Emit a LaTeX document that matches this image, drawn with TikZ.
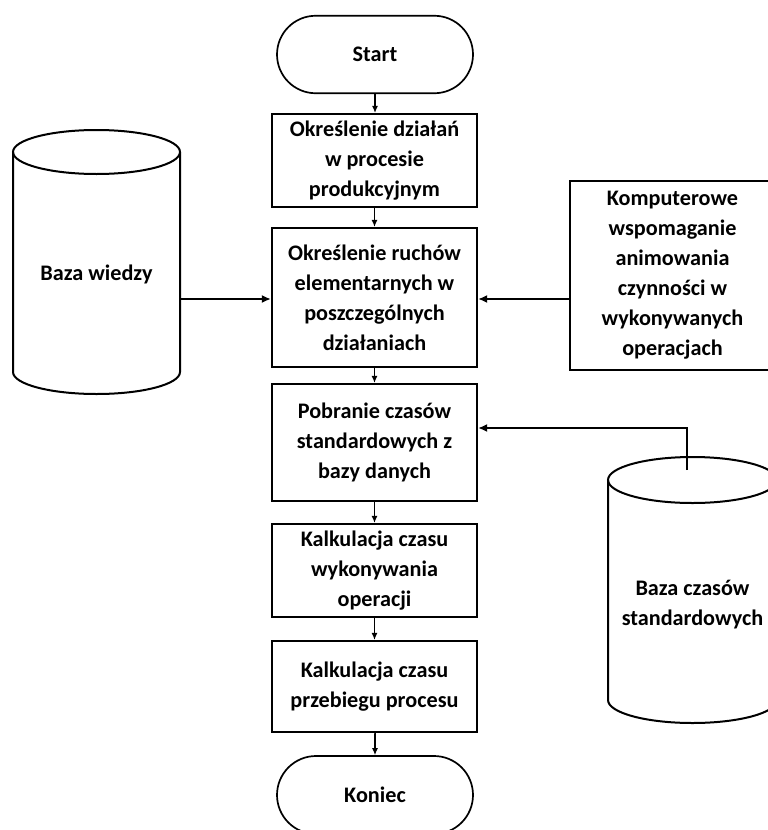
\documentclass[tikz,border=0pt]{standalone}
\usepackage{fontspec}
\setmainfont{Carlito}
\usetikzlibrary{shapes.misc,arrows.meta}
\begin{document}
\begin{tikzpicture}[x=1pt,y=1pt,
  every node/.style={font=\bfseries\fontsize{22.2}{30}\selectfont, align=center, inner sep=0pt},
  procbox/.style={draw, line width=2.2pt, minimum width=205pt},
  term/.style={draw, rounded rectangle, line width=1.7pt, minimum width=196pt, minimum height=77.5pt},
  flow/.style={-{Latex[length=7pt,width=6pt]}, line width=1.2pt},
  feed/.style={-{Latex[length=9pt,width=8pt]}, line width=2.2pt},
  dbline/.style={line width=2pt}]
\useasboundingbox (0,0) rectangle (768,-830);
\clip (0,0) rectangle (768,-830);

% main process column
\node[term] (start) at (375,-54.5) {Start};
\node[procbox, minimum height=93pt]  (b1) at (374.5,-160.5) {Określenie działań\\w procesie\\produkcyjnym};
\node[procbox, minimum height=139pt] (b2) at (374.5,-297.5) {Określenie ruchów\\elementarnych w\\poszczególnych\\działaniach};
\node[procbox, minimum height=117pt] (b3) at (374.5,-442.5) {Pobranie czasów\\standardowych z\\bazy danych};
\node[procbox, minimum height=93pt]  (b4) at (374.5,-570.5) {Kalkulacja czasu\\wykonywania\\operacji};
\node[procbox, minimum height=91pt]  (b5) at (374.5,-686.5) {Kalkulacja czasu\\przebiegu procesu};
\node[term, minimum height=78pt] (end) at (375,-795) {Koniec};

% side input box
\node[procbox, minimum width=205pt, minimum height=189pt] (kom) at (672.5,-275.5)
  {Komputerowe\\wspomaganie\\animowania\\czynności w\\wykonywanych\\operacjach};

% knowledge base cylinder
\draw[dbline] (13,-152) -- (13,-372) arc[start angle=180,end angle=360,x radius=83.5,y radius=22] -- (180,-152);
\draw[dbline] (96.5,-152) ellipse [x radius=83.5,y radius=22];
\node (kb) at (96.5,-274) {Baza wiedzy};
\coordinate (kbout) at (180,-299);

% standard times database cylinder
\draw[dbline] (608,-480) -- (608,-700) arc[start angle=180,end angle=360,x radius=84.5,y radius=23] -- (777,-480);
\draw[dbline] (692.5,-480) ellipse [x radius=84.5,y radius=23];
\node (bcs) at (692.5,-605) {Baza czasów\\standardowych};
\coordinate (bcsout) at (687,-470);

% flow connectors
\draw[flow] (start.south) -- (start.south |- b1.north);
\draw[flow] (b1) -- (b2);
\draw[flow] (b2) -- (b3);
\draw[flow] (b3) -- (b4);
\draw[flow] (b4) -- (b5);
\draw[flow] (b5.south) -- (b5.south -| end.north) -- (end.north);

% inputs into the process
\draw[feed] (kbout) -- (kbout -| b2.west);
\draw[feed] (kom.west |- kbout) -- (kbout -| b2.east);
\draw[feed] (bcsout) |- ([yshift=14.5pt]b3.east);
\end{tikzpicture}
\end{document}
